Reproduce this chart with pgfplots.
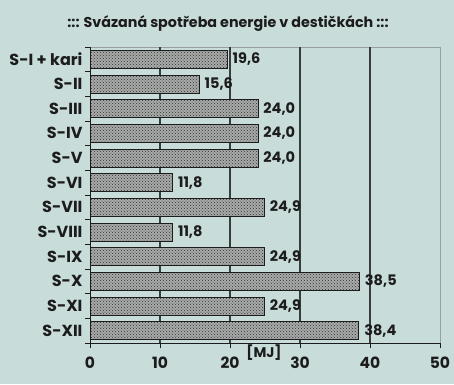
\documentclass[border=0pt]{standalone}
\usepackage{pgfplots}
\pgfplotsset{compat=1.18}
\usepackage{fontspec}
\setmainfont{Poppins}
\usetikzlibrary{patterns}
\definecolor{bg}{RGB}{200,220,218}
\definecolor{ink}{RGB}{28,28,28}
\definecolor{gridc}{RGB}{55,60,60}
\definecolor{barfill}{RGB}{168,170,170}
\definecolor{framec}{RGB}{150,160,160}
\begin{document}
\begin{tikzpicture}
\fill[bg] (0,0) rectangle (454pt,384pt);
\useasboundingbox (0,0) rectangle (454pt,384pt);
\node[text=ink, font=\bfseries\fontsize{14.3}{17}\selectfont] at (228pt,360pt) {::: Svázaná spotřeba energie v destičkách :::};
\draw[framec, line width=0.8pt] (90pt,337pt) -- (440pt,337pt) -- (440pt,41pt);
\begin{axis}[
  at={(90pt,41pt)}, anchor=south west, scale only axis,
  width=350pt, height=296pt,
  xbar, bar width=0.73,
  xmin=0, xmax=50, ymin=-0.5, ymax=11.5, y dir=reverse,
  axis x line*=bottom, axis y line*=left,
  axis line style={-, ink, line width=1pt},
  /pgf/number format/assume math mode=true,
  tick align=outside,
  major tick length=5pt,
  tick style={ink, line width=0.8pt},
  xtick={0,10,20,30,40,50},
  xticklabel style={text=ink, font=\bfseries\fontsize{15.5}{18}\selectfont, yshift=-5pt},
  extra x ticks={10,20,30,40},
  extra x tick labels={},
  extra x tick style={grid=major, major grid style={gridc, line width=1.2pt}},
  ytick={-0.5,0.5,...,11.5},
  yticklabel=\empty,
  extra y ticks={0,1,2,3,4,5,6,7,8,9,10,11},
  extra y tick labels={S-I + kari,S-II,S-III,S-IV,S-V,S-VI,S-VII,S-VIII,S-IX,S-X,S-XI,S-XII},
  extra y tick style={major tick length=0pt, yticklabel style={text=ink, font=\bfseries\fontsize{16}{19}\selectfont, xshift=-4pt}},
  point meta=x,
  nodes near coords={\pgfmathprintnumber[fixed, fixed zerofill, precision=1, use comma]{\pgfplotspointmeta}},
  nodes near coords align=horizontal,
  every node near coord/.append style={text=ink, font=\bfseries\fontsize{14.5}{17}\selectfont, anchor=west, inner sep=2pt, xshift=3pt},
]
\addplot[draw=ink, line width=0.9pt, fill=barfill, postaction={pattern=crosshatch dots, pattern color=black!80}]
 coordinates {(19.6,0) (15.6,1) (24.0,2) (24.0,3) (24.0,4) (11.8,5) (24.9,6) (11.8,7) (24.9,8) (38.5,9) (24.9,10) (38.4,11)};
\end{axis}
\node[text=ink, font=\bfseries\fontsize{14}{16}\selectfont] at (264pt,31pt) {[MJ]};
\end{tikzpicture}
\end{document}
